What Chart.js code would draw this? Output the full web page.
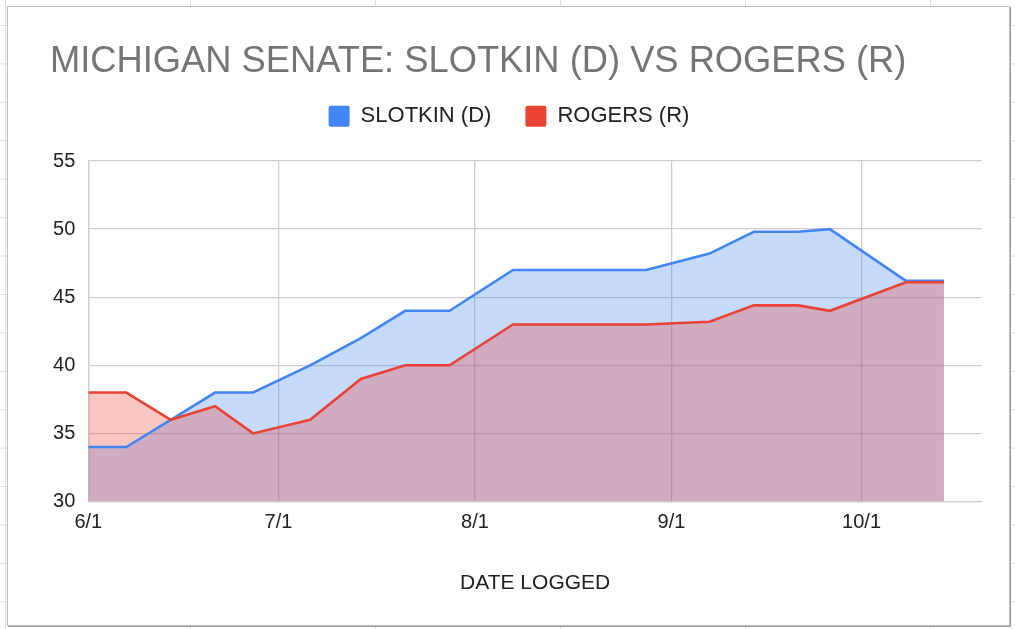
<!DOCTYPE html>
<html lang="en">
<head>
  <meta charset="UTF-8">
  <title>Michigan Senate: Slotkin (D) vs Rogers (R)</title>
  <script src="https://cdn.jsdelivr.net/npm/chart.js"></script>
  <style>
    body {
      margin: 0;
      width: 1015px;
      height: 629px;
      overflow: hidden;
      background-color: #fff;
      background-image:
        linear-gradient(to right, #e0e0e0 1px, transparent 1px),
        linear-gradient(to bottom, #e0e0e0 1px, transparent 1px);
      background-size: 185px 38.43px;
      background-position: 5px 25px;
    }
    #card {
      position: absolute;
      left: 7px;
      top: 6px;
      width: 1001px;
      height: 618px;
      background: #fff;
      border: 1px solid #bdbdbd;
      box-shadow: 1px 1px 0 #9e9e9e;
    }
    #wrap {
      position: absolute;
      left: 0;
      top: 0;
      width: 1001px;
      height: 618px;
    }
  </style>
</head>
<body>
  <div id="card">
    <div id="wrap"><canvas id="grafico"></canvas></div>
  </div>

  <script>
    // dates logged (2024) and poll numbers
    const datas = ['6/1', '6/7', '6/14', '6/21', '6/27', '7/6', '7/14', '7/21', '7/28',
                   '8/7', '8/28', '9/7', '9/14', '9/21', '9/26', '10/8', '10/14'];
    const slotkin = [34, 34, 36, 38, 38, 40, 42, 44, 44, 47, 47, 48.2, 49.8, 49.8, 50, 46.2, 46.2];
    const rogers = [38, 38, 36, 37, 35, 36, 39, 40, 40, 43, 43, 43.2, 44.4, 44.4, 44, 46.1, 46.1];
    const meses = ['6/1', '7/1', '8/1', '9/1', '10/1'];
    const fimEixo = '10/20';

    const ano = 2024;
    const dia0 = Date.UTC(ano, 5, 1);
    function paraDia(s) {
      const [m, d] = s.split('/').map(Number);
      return Math.round((Date.UTC(ano, m - 1, d) - dia0) / 86400000);
    }
    function paraTexto(v) {
      const dt = new Date(dia0 + v * 86400000);
      return (dt.getUTCMonth() + 1) + '/' + dt.getUTCDate();
    }

    const xs = datas.map(paraDia);
    Chart.defaults.font.family = "'Liberation Sans', Arial, sans-serif";

    // nudge the legend a bit left, like the sheets chart
    const moverLegenda = {
      id: 'moverLegenda',
      afterLayout(chart) {
        chart.legend.left -= 7;
        chart.legend.right -= 7;
      }
    };

    new Chart(document.getElementById('grafico'), {
      type: 'line',
      data: {
        datasets: [
          {
            label: 'SLOTKIN (D)',
            data: xs.map((x, i) => ({ x, y: slotkin[i] })),
            borderColor: '#4285f4',
            backgroundColor: 'rgba(66, 133, 244, 0.3)',
            borderWidth: 2.6,
            pointRadius: 0,
            tension: 0,
            fill: 'start',
            order: 1
          },
          {
            label: 'ROGERS (R)',
            data: xs.map((x, i) => ({ x, y: rogers[i] })),
            borderColor: '#ea4335',
            backgroundColor: 'rgba(234, 67, 53, 0.3)',
            borderWidth: 2.6,
            pointRadius: 0,
            tension: 0,
            fill: 'start',
            order: 0
          }
        ]
      },
      plugins: [moverLegenda],
      options: {
        responsive: true,
        maintainAspectRatio: false,
        animation: false,
        layout: { padding: { left: 42, right: 27, top: 0, bottom: 28.7 } },
        plugins: {
          // areas first, lines on top of all of them
          filler: { drawTime: 'beforeDatasetsDraw' },
          title: {
            display: true,
            text: 'MICHIGAN SENATE: SLOTKIN (D) VS ROGERS (R)',
            align: 'start',
            color: '#757575',
            font: { size: 36.3, weight: 'normal', lineHeight: 0.5 },
            padding: { top: 46, bottom: 0 }
          },
          // empty spacer between legend and plot
          subtitle: {
            display: true,
            text: '',
            weight: 500,
            font: { size: 10, lineHeight: 1.2 },
            padding: { top: 11.85, bottom: 0 }
          },
          legend: {
            labels: {
              color: '#222',
              font: { size: 22 },
              boxWidth: 21,
              boxHeight: 21,
              padding: 34,
              useBorderRadius: true,
              borderRadius: 2,
              sort: (a, b) => a.datasetIndex - b.datasetIndex,
              generateLabels: (chart) =>
                Chart.defaults.plugins.legend.labels.generateLabels(chart)
                  .map(l => ({ ...l, fillStyle: l.strokeStyle, lineWidth: 0 }))
            }
          },
          tooltip: { enabled: false }
        },
        scales: {
          x: {
            type: 'linear',
            min: 0,
            max: paraDia(fimEixo),
            afterBuildTicks: (eixo) => {
              eixo.ticks = meses.map(m => ({ value: paraDia(m) }));
            },
            ticks: {
              color: '#222',
              font: { size: 20 },
              padding: 9,
              maxRotation: 0,
              callback: (v) => paraTexto(v)
            },
            grid: { color: '#cfcfcf', lineWidth: 1.3, drawTicks: false },
            border: { color: '#cfcfcf', width: 1.3 },
            title: {
              display: true,
              text: 'DATE LOGGED',
              color: '#222',
              font: { size: 21 },
              padding: { top: 27.6, bottom: 0 }
            }
          },
          y: {
            min: 30,
            max: 55,
            ticks: {
              stepSize: 5,
              color: '#222',
              font: { size: 20 },
              padding: 13
            },
            afterFit: (eixo) => { eixo.width = 38.3; },
            grid: { color: '#cfcfcf', lineWidth: 1.3, drawTicks: false },
            border: { color: '#cfcfcf', width: 1.3 }
          }
        }
      }
    });
  </script>
</body>
</html>
